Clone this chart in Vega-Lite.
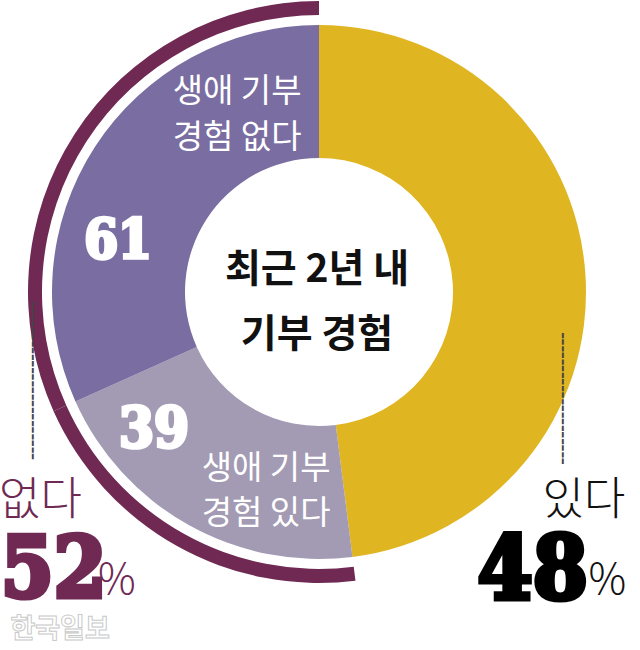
{
  "$schema": "https://vega.github.io/schema/vega-lite/v6.json",
  "width": 638,
  "height": 584,
  "autosize": {"type": "none"},
  "padding": {"left": 0, "top": 0, "right": 2, "bottom": 66},
  "background": "#ffffff",
  "config": {"view": {"stroke": null}},
  "data": {
    "values": [
      {"answer": "있다", "segment": "있다", "share": 48, "groupShare": 48, "pct": null, "rank": 1},
      {"answer": "없다", "segment": "생애 기부\n경험 있다", "share": 20.28, "groupShare": 52, "pct": 39, "rank": 2},
      {"answer": "없다", "segment": "생애 기부\n경험 없다", "share": 31.72, "groupShare": 52, "pct": 61, "rank": 3}
    ]
  },
  "encoding": {
    "theta": {"field": "share", "type": "quantitative", "stack": true},
    "order": {"field": "rank", "type": "quantitative"},
    "detail": {"field": "segment", "type": "nominal"}
  },
  "layer": [
    {
      "mark": {"type": "arc", "radius": 267, "radius2": 134},
      "encoding": {
        "color": {
          "field": "segment",
          "type": "nominal",
          "scale": {
            "domain": ["있다", "생애 기부\n경험 있다", "생애 기부\n경험 없다"],
            "range": ["#e0b522", "#a39ab3", "#7a6da1"]
          },
          "legend": null
        }
      }
    },
    {
      "mark": {"type": "arc", "radius": 291, "radius2": 277, "fill": "#6f2953"},
      "encoding": {
        "opacity": {"condition": {"test": "datum.answer === '없다'", "value": 1}, "value": 0}
      }
    },
    {
      "mark": {"type": "text", "radius": 200, "dx": 86, "dy": -91, "color": "#ffffff", "font": "Noto Sans CJK KR", "fontSize": 33, "lineHeight": 46, "lineBreak": "\n", "align": "center", "baseline": "middle"},
      "encoding": {"text": {"condition": {"test": "datum.rank === 3", "field": "segment"}, "value": ""}}
    },
    {
      "mark": {"type": "text", "radius": 200, "dx": -33, "dy": 75, "color": "#ffffff", "stroke": "#ffffff", "strokeWidth": 3.5, "font": "DejaVu Serif Condensed, DejaVu Serif", "fontWeight": "bold", "fontSize": 54, "align": "center", "baseline": "alphabetic"},
      "encoding": {"text": {"condition": {"test": "datum.rank === 3", "field": "pct"}, "value": ""}}
    },
    {
      "mark": {"type": "text", "radius": 200, "dx": 45, "dy": 3, "color": "#ffffff", "font": "Noto Sans CJK KR", "fontSize": 33, "lineHeight": 45, "lineBreak": "\n", "align": "center", "baseline": "middle"},
      "encoding": {"text": {"condition": {"test": "datum.rank === 2", "field": "segment"}, "value": ""}}
    },
    {
      "mark": {"type": "text", "radius": 200, "dx": -67, "dy": -19, "color": "#ffffff", "stroke": "#ffffff", "strokeWidth": 3.5, "font": "DejaVu Serif Condensed, DejaVu Serif", "fontWeight": "bold", "fontSize": 56, "align": "center", "baseline": "alphabetic"},
      "encoding": {"text": {"condition": {"test": "datum.rank === 2", "field": "pct"}, "value": ""}}
    },
    {
      "mark": {"type": "text", "radius": 200, "dx": -222, "dy": 49, "color": "#6f2953", "font": "Noto Sans CJK KR", "fontWeight": 300, "fontSize": 45, "align": "left", "baseline": "alphabetic"},
      "encoding": {"text": {"condition": {"test": "datum.rank === 2", "field": "answer"}, "value": ""}}
    },
    {
      "mark": {"type": "text", "radius": 200, "dx": -220, "dy": 131, "color": "#6f2953", "stroke": "#6f2953", "strokeWidth": 5, "font": "DejaVu Serif Condensed, DejaVu Serif", "fontWeight": "bold", "fontSize": 84, "align": "left", "baseline": "alphabetic"},
      "encoding": {"text": {"condition": {"test": "datum.rank === 2", "field": "groupShare"}, "value": ""}}
    },
    {
      "mark": {"type": "text", "radius": 200, "dx": -123, "dy": 128, "color": "#6f2953", "font": "Noto Sans CJK KR", "fontWeight": 300, "fontSize": 42, "align": "left", "baseline": "alphabetic"},
      "encoding": {"text": {"condition": {"test": "datum.rank === 2", "value": "%"}, "value": ""}}
    },
    {
      "mark": {"type": "text", "radius": 200, "dx": 24, "dy": 236, "color": "#111111", "font": "Noto Sans CJK KR", "fontWeight": 300, "fontSize": 45, "align": "left", "baseline": "alphabetic"},
      "encoding": {"text": {"condition": {"test": "datum.rank === 1", "field": "answer"}, "value": ""}}
    },
    {
      "mark": {"type": "text", "radius": 200, "dx": -41, "dy": 320, "color": "#000000", "stroke": "#000000", "strokeWidth": 5, "font": "DejaVu Serif Condensed, DejaVu Serif", "fontWeight": "bold", "fontSize": 88, "align": "left", "baseline": "alphabetic"},
      "encoding": {"text": {"condition": {"test": "datum.rank === 1", "field": "groupShare"}, "value": ""}}
    },
    {
      "mark": {"type": "text", "radius": 200, "dx": 70, "dy": 315, "color": "#111111", "font": "Noto Sans CJK KR", "fontWeight": 300, "fontSize": 42, "align": "left", "baseline": "alphabetic"},
      "encoding": {"text": {"condition": {"test": "datum.rank === 1", "value": "%"}, "value": ""}}
    },
    {
      "mark": {"type": "text", "radius": 200, "angle": 90, "dx": -86, "dy": 189, "color": "#444444", "font": "DejaVu Sans Mono", "fontSize": 22, "align": "center", "baseline": "middle"},
      "encoding": {"text": {"condition": {"test": "datum.rank === 2", "value": "╌╌╌╌╌╌╌╌╌╌╌╌"}, "value": ""}}
    },
    {
      "mark": {"type": "text", "radius": 200, "angle": 90, "dx": 119, "dy": -43, "color": "#444444", "font": "DejaVu Sans Mono", "fontSize": 22, "align": "center", "baseline": "middle"},
      "encoding": {"text": {"condition": {"test": "datum.rank === 1", "value": "╌╌╌╌╌╌╌╌╌╌"}, "value": ""}}
    },
    {
      "mark": {"type": "text", "radius": 0, "dx": -2, "dy": -22, "color": "#111111", "font": "Noto Sans CJK KR", "fontWeight": "bold", "fontSize": 39, "lineHeight": 65, "lineBreak": "\n", "align": "center", "baseline": "middle"},
      "encoding": {"text": {"condition": {"test": "datum.rank === 1", "value": "최근 2년 내\n기부 경험"}, "value": ""}}
    },
    {
      "mark": {"type": "text", "radius": 200, "dx": -161, "dy": 172, "fill": "#ffffff", "stroke": "#c9c9c9", "strokeWidth": 1, "font": "Noto Sans CJK KR", "fontWeight": "bold", "fontSize": 27, "align": "center", "baseline": "alphabetic"},
      "encoding": {"text": {"condition": {"test": "datum.rank === 2", "value": "한국일보"}, "value": ""}}
    }
  ]
}
